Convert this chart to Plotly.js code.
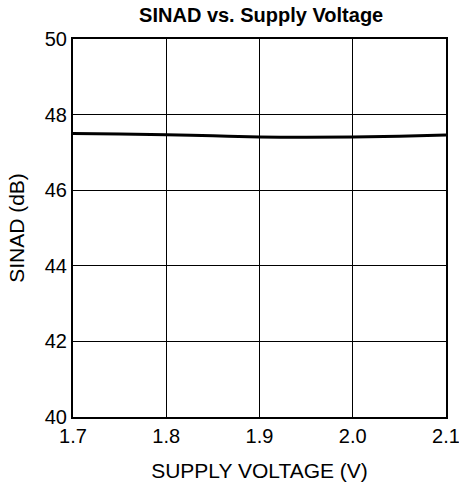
<!DOCTYPE html>
<html><head><meta charset="utf-8">
<script src="https://cdn.plot.ly/plotly-3.0.1.min.js"></script>
<style>body{margin:0;background:#fff}#c{width:459px;height:485px}</style>
</head><body><div id="c"></div>
<script>
const voltage = [1.7, 1.75, 1.8, 1.85, 1.9, 1.95, 2.0, 2.05, 2.1];
const sinad = [47.50, 47.49, 47.47, 47.44, 47.41, 47.40, 47.41, 47.43, 47.46];
const xTicks = [1.7, 1.8, 1.9, 2.0, 2.1];
const xTickText = ['1.7', '1.8', '1.9', '2.0', '2.1'];
const yTicks = [40, 42, 44, 46, 48, 50];

Plotly.newPlot('c', [{
  x: voltage, y: sinad, type: 'scatter', mode: 'lines',
  line: {color: '#000', width: 3, shape: 'spline'}, hoverinfo: 'skip'
}], {
  width: 459, height: 485,
  margin: {l: 73, r: 13, t: 39, b: 68},
  paper_bgcolor: '#fff', plot_bgcolor: '#fff',
  showlegend: false,
  font: {family: 'Liberation Sans, Arial, sans-serif', color: '#000'},
  title: {text: '<b>SINAD vs. Supply Voltage</b>', font: {size: 20, color: '#000'}, x: 0.569, xanchor: 'center', y: 0.983, yanchor: 'top'},
  xaxis: {
    range: [1.7, 2.1], tickvals: xTicks, ticktext: xTickText,
    showgrid: true, gridcolor: '#000', gridwidth: 1,
    showline: true, linecolor: '#000', linewidth: 2, mirror: true,
    ticks: '', tickfont: {size: 20}, zeroline: false, ticklabeloverflow: 'allow',
    title: {text: 'SUPPLY VOLTAGE (V)', font: {size: 21}, standoff: 17}
  },
  yaxis: {
    range: [40, 50], tickvals: yTicks,
    showgrid: true, gridcolor: '#000', gridwidth: 1,
    showline: true, linecolor: '#000', linewidth: 2, mirror: true,
    ticks: '', tickfont: {size: 20}, zeroline: false, ticklabeloverflow: 'allow',
    title: {text: 'SINAD (dB)', font: {size: 21}, standoff: 14}
  }
}, {displayModeBar: false, staticPlot: true});
</script></body></html>
